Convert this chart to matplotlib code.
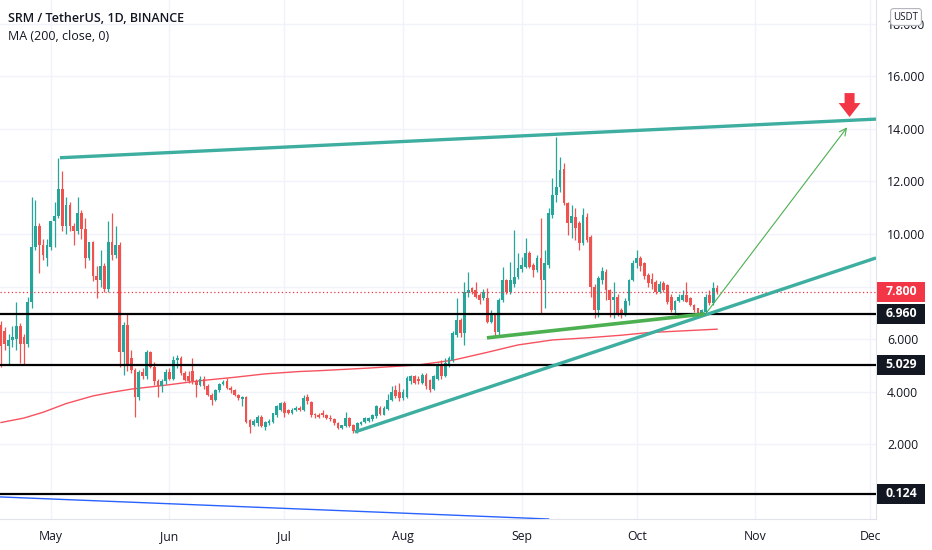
import pandas as pd
import matplotlib
matplotlib.use("Agg")
import matplotlib.pyplot as plt
from matplotlib.patches import Rectangle, FancyArrow

START_DATE = "2021-04-18"

# daily OHLC, SRM/USDT
opens = [6.55, 6.3, 5.75, 5.95, 6.0, 6.5, 6.1, 5.8, 7.4, 9.5,
         10.3, 9.6, 9.1, 9.5, 10.5, 10.7, 11.7, 10.3, 11.1, 10.3,
         10.1, 10.8, 10.2, 9.1, 9.7, 8.4, 8.25, 8.8, 7.9, 9.7,
         9.2, 9.6, 5.5, 6.54, 5.27, 4.83, 3.81, 4.77, 4.6, 5.5,
         4.95, 4.39, 4.2, 4.39, 4.77, 4.5, 5.2, 5.3, 4.7, 4.6,
         4.8, 4.4, 4.26, 4.5, 4.2, 3.88, 3.69, 4.05, 4.3, 4.39,
         4.15, 4.05, 3.88, 3.72, 3.8, 2.93, 2.74, 2.8, 3.05, 2.65,
         2.8, 2.85, 3.1, 3.3, 3.56, 3.3, 3.2, 3.3, 3.4, 3.3,
         3.8, 3.6, 3.15, 3.12, 3.2, 3.1, 3.0, 2.97, 2.8, 2.62,
         2.7, 3.0, 2.72, 2.5, 2.78, 2.86, 2.9, 2.95, 3.06, 3.4,
         3.12, 3.35, 3.7, 4.07, 4.0, 3.78, 3.8, 4.4, 4.58, 4.5,
         4.35, 4.64, 4.45, 4.1, 4.5, 5.0, 4.6, 5.05, 5.21, 6.16,
         6.73, 6.22, 7.74, 7.93, 7.87, 7.68, 7.55, 7.55, 6.67, 6.92,
         6.29, 7.49, 8.25, 7.81, 8.1, 8.38, 8.65, 8.76, 9.27, 8.82,
         8.63, 9.08, 8.25, 8.82, 10.72, 11.48, 11.8, 12.46, 11.17, 10.41,
         10.66, 10.41, 9.65, 10.66, 9.9, 8.0, 7.11, 8.25, 8.57, 7.87,
         7.49, 7.62, 7.1, 6.98, 7.45, 8.25, 8.88, 9.07, 8.9, 8.45,
         8.3, 8.19, 7.81, 8.12, 8.06, 7.6, 7.1, 7.45, 7.5, 7.68,
         7.55, 7.3, 7.17, 6.98, 7.05, 7.68, 7.36, 7.93]
highs = [6.7, 6.45, 6.2, 6.5, 7.4, 6.6, 6.2, 7.6, 11.4, 11.3,
         10.4, 9.8, 9.8, 10.5, 11.2, 12.9, 12.4, 11.4, 11.2, 10.4,
         11.4, 10.9, 10.6, 9.7, 9.75, 8.8, 9.4, 8.9, 10.5, 10.8,
         10.3, 9.7, 6.67, 6.98, 5.59, 4.9, 4.83, 4.9, 5.6, 5.55,
         5.14, 4.5, 4.5, 4.85, 4.9, 5.36, 5.4, 5.35, 4.8, 4.8,
         5.27, 4.5, 4.6, 4.6, 4.3, 3.95, 4.1, 4.35, 4.45, 4.51,
         4.2, 4.1, 3.9, 3.85, 3.82, 2.95, 2.95, 3.1, 3.1, 2.9,
         2.95, 3.2, 3.5, 3.6, 3.65, 3.35, 3.4, 3.45, 3.45, 3.88,
         3.9, 3.65, 3.2, 3.2, 3.3, 3.15, 3.1, 3.0, 2.85, 2.75,
         3.24, 3.05, 2.78, 2.85, 2.9, 3.05, 3.05, 3.15, 3.5, 3.45,
         3.45, 3.9, 4.2, 4.26, 4.32, 4.1, 4.6, 4.65, 4.64, 4.6,
         4.7, 4.7, 4.5, 4.65, 5.1, 5.2, 5.3, 5.35, 6.3, 7.55,
         6.8, 8.19, 8.57, 8.0, 8.19, 7.75, 7.9, 7.93, 7.1, 6.98,
         7.55, 8.76, 8.3, 8.95, 10.15, 9.27, 9.14, 9.84, 9.35, 8.9,
         9.2, 10.6, 9.4, 11.0, 12.12, 13.7, 12.94, 12.69, 11.2, 11.1,
         10.98, 10.5, 10.98, 10.8, 9.95, 8.1, 8.4, 8.76, 8.65, 7.9,
         8.19, 7.7, 7.2, 7.55, 8.3, 9.0, 9.39, 9.15, 8.95, 8.5,
         8.5, 8.25, 8.2, 8.2, 8.1, 7.7, 7.5, 7.7, 7.87, 8.19,
         7.6, 7.35, 7.2, 7.15, 7.7, 7.87, 8.19, 8.06]
lows = [4.95, 5.6, 5.05, 5.7, 5.6, 5.1, 5.05, 5.7, 7.2, 9.4,
        8.5, 9.0, 8.8, 9.4, 9.5, 10.6, 10.1, 10.0, 10.1, 9.6,
        10.0, 9.8, 8.7, 9.0, 8.2, 7.55, 8.0, 7.8, 7.8, 9.0,
        9.1, 4.95, 4.64, 4.8, 4.7, 3.05, 3.7, 4.5, 4.5, 4.9,
        4.26, 3.81, 4.0, 4.3, 4.45, 4.45, 4.9, 4.65, 4.4, 4.35,
        4.3, 3.81, 4.2, 4.1, 3.85, 3.5, 3.65, 4.0, 4.25, 4.1,
        3.95, 3.85, 3.7, 3.45, 2.8, 2.42, 2.7, 2.7, 2.65, 2.55,
        2.75, 2.8, 3.05, 3.25, 3.05, 3.15, 3.15, 3.25, 3.25, 3.25,
        3.55, 3.05, 3.0, 3.0, 3.05, 2.95, 2.9, 2.75, 2.58, 2.58,
        2.65, 2.65, 2.42, 2.45, 2.72, 2.8, 2.85, 2.9, 3.0, 3.1,
        3.1, 3.3, 3.65, 3.78, 3.63, 3.7, 3.75, 4.3, 4.3, 4.3,
        4.3, 4.1, 4.0, 4.05, 4.45, 4.5, 4.55, 4.95, 5.15, 6.1,
        6.1, 5.78, 7.6, 7.7, 7.55, 7.35, 7.5, 6.6, 6.6, 6.1,
        6.15, 7.4, 7.7, 7.7, 8.0, 8.3, 8.55, 8.7, 8.7, 8.38,
        8.55, 6.98, 7.17, 8.7, 10.6, 11.2, 11.6, 11.1, 9.96, 9.84,
        9.77, 9.39, 9.6, 9.7, 7.6, 6.79, 6.85, 8.1, 7.49, 6.85,
        6.79, 6.9, 6.8, 6.9, 7.3, 8.2, 8.7, 8.6, 8.3, 8.0,
        7.9, 7.7, 7.75, 7.8, 7.35, 7.05, 6.98, 7.4, 7.45, 7.4,
        7.25, 7.05, 6.92, 6.92, 7.0, 7.3, 7.3, 7.7]
closes = [5.75, 5.8, 5.95, 6.1, 6.5, 5.8, 5.8, 7.4, 9.5, 10.3,
          9.6, 9.2, 9.6, 10.5, 10.7, 11.7, 10.3, 11.1, 10.3, 10.1,
          10.8, 10.2, 9.1, 9.7, 8.4, 8.25, 8.8, 7.9, 9.7, 9.2,
          9.6, 5.5, 6.54, 5.0, 4.83, 3.81, 4.77, 4.6, 5.53, 4.95,
          4.39, 4.2, 4.39, 4.77, 4.5, 5.2, 5.3, 4.7, 4.45, 4.4,
          4.39, 4.26, 4.5, 4.2, 3.88, 3.69, 4.07, 4.3, 4.37, 4.13,
          4.05, 3.88, 3.75, 3.8, 2.86, 2.67, 2.88, 3.05, 2.7, 2.85,
          2.9, 3.18, 3.44, 3.56, 3.2, 3.2, 3.3, 3.4, 3.3, 3.75,
          3.65, 3.12, 3.1, 3.05, 3.1, 3.0, 2.97, 2.8, 2.62, 2.72,
          3.0, 2.7, 2.5, 2.8, 2.86, 2.99, 3.0, 3.12, 3.44, 3.15,
          3.37, 3.7, 3.98, 3.82, 3.75, 4.0, 4.51, 4.58, 4.35, 4.4,
          4.62, 4.2, 4.07, 4.6, 5.0, 4.6, 5.1, 5.27, 6.22, 6.73,
          6.22, 7.81, 7.87, 7.81, 7.62, 7.49, 7.81, 6.67, 6.98, 6.29,
          7.49, 8.25, 7.81, 8.25, 8.38, 8.7, 8.82, 9.27, 8.76, 8.63,
          9.08, 8.25, 8.89, 10.79, 11.48, 11.8, 12.43, 11.17, 10.41, 10.7,
          10.22, 9.65, 10.72, 9.77, 8.0, 7.11, 8.31, 8.6, 7.87, 7.5,
          7.62, 7.0, 6.95, 7.45, 8.25, 8.88, 9.07, 8.8, 8.4, 8.12,
          8.1, 7.81, 8.1, 7.87, 7.43, 7.1, 7.45, 7.62, 7.68, 7.43,
          7.3, 7.11, 6.98, 7.11, 7.62, 7.36, 7.93, 7.8]

# MA(200, close): day index -> value
ma_days = [0, 6, 11, 17, 24, 29, 34, 43, 52, 61, 69, 78, 83, 96, 109,
           118, 127, 135, 144, 153, 162, 169, 187]
ma_values = [2.83, 3.0, 3.22, 3.55, 3.84, 3.98, 4.1, 4.25, 4.42, 4.55,
             4.68, 4.77, 4.80, 4.9, 5.02, 5.2, 5.5, 5.78, 5.97, 6.05,
             6.15, 6.25, 6.38]

level_prices = [6.960, 5.029, 0.124]
last_price = 7.800
price_ticks = [2, 4, 6, 8, 10, 12, 14, 16, 18]
month_starts = pd.date_range("2021-05-01", "2021-12-01", freq="MS")
month_labels = ["May", "Jun", "Jul", "Aug", "Sep", "Oct", "Nov", "Dec"]

# drawings (day index, price)
upper_channel = [(15.4, 12.9), (228.5, 14.37)]
lower_channel = [(92.4, 2.47), (228.5, 9.09)]
support_line = [(126.9, 6.05), (183.8, 6.96)]
target_arrow = [(184.0, 6.96), (221.4, 14.14)]
old_trend = [(-0.3, 0.0), (143.0, -0.84)]
red_marker = (221.6, 15.36, 14.45)

UP = "#26A69A"
DOWN = "#EF5350"
TEXT = "#131722"
TEAL = "#3DAE9F"
GREEN = "#4CAF50"
RED = "#F23645"

plt.rcParams["font.family"] = ["Open Sans", "DejaVu Sans"]

fig = plt.figure(figsize=(9.32, 5.5), dpi=100)
ax = fig.add_axes([0, 1 - 519 / 550, 876 / 932, 519 / 550])

start = pd.Timestamp(START_DATE)
days = list(range(len(closes)))

ax.set_xlim(-0.26, 228.5)
ax.set_ylim(-0.84, 18.9)

# grid
tick_pos = [(m - start).days for m in month_starts]
ax.set_xticks(tick_pos)
ax.set_xticklabels(month_labels)
ax.set_yticks(price_ticks)
ax.set_yticklabels([f"{v:.3f}" for v in price_ticks])
ax.yaxis.tick_right()
ax.grid(True, color="#F0F3FA", lw=1.0, zorder=0)
ax.set_axisbelow(True)
ax.tick_params(axis="both", length=0, labelsize=8.8, colors=TEXT)
ax.tick_params(axis="x", pad=8)
ax.tick_params(axis="y", pad=8)
for side in ["top", "left"]:
    ax.spines[side].set_visible(False)
for side in ["right", "bottom"]:
    ax.spines[side].set_color("#E0E3EB")
    ax.spines[side].set_linewidth(0.8)

# moving average
ax.plot(ma_days, ma_values, color="#F7525F", lw=1.0, zorder=2)

# candles
colors = [UP if c >= o else DOWN for o, c in zip(opens, closes)]
ax.vlines(days, lows, highs, colors=colors, lw=0.9, zorder=3)
bottoms = [min(o, c) for o, c in zip(opens, closes)]
heights = [max(abs(c - o), 0.04) for o, c in zip(opens, closes)]
ax.bar(days, heights, bottom=bottoms, width=0.72, color=colors, lw=0, zorder=4)

# horizontal levels
for p in level_prices:
    ax.axhline(p, color="black", lw=1.6, zorder=5)
ax.axhline(last_price, color=RED, lw=0.9, ls=(0, (1, 2)), zorder=5)

# trend lines
ax.plot(*zip(*old_trend), color="#2962FF", lw=1.0, zorder=5)
ax.plot(*zip(*upper_channel), color=TEAL, lw=2.4, zorder=6, solid_capstyle="butt")
ax.plot(*zip(*lower_channel), color=TEAL, lw=2.4, zorder=6, solid_capstyle="butt")
ax.plot(*zip(*support_line), color=GREEN, lw=2.6, zorder=6, solid_capstyle="butt")
ax.annotate("", xy=target_arrow[1], xytext=target_arrow[0],
            arrowprops=dict(arrowstyle="->,head_width=0.25,head_length=0.5",
                            color=GREEN, lw=0.8), zorder=7)
mx, mtop, mtip = red_marker
ax.add_patch(FancyArrow(mx, mtop, 0, mtip - mtop, width=2.6, head_width=5.7,
                        head_length=0.53, length_includes_head=True,
                        color=RED, lw=0, zorder=8))

# price scale labels
yt = ax.get_yaxis_transform()
def price_box(p, face):
    ax.add_patch(Rectangle((1.0015, p - 0.38), 0.0545, 0.76, transform=yt,
                           facecolor=face, edgecolor="none", clip_on=False,
                           zorder=10))
    ax.text(1.0288, p, f"{p:.3f}", transform=yt, ha="center", va="center",
            fontsize=8.8, color="white", weight="bold", zorder=11,
            clip_on=False)

price_box(last_price, RED)
for p in level_prices:
    price_box(p, TEXT)

fig.text(906 / 932, 1 - 17 / 550, "USDT", ha="center", va="center",
         fontsize=7, color=TEXT, zorder=12,
         bbox=dict(boxstyle="round,pad=0.3,rounding_size=0.3", fc="white",
                   ec="#B2B5BE", lw=0.8))

fig.text(8 / 932, 1 - 18 / 550, "SRM / TetherUS, 1D, BINANCE", ha="left",
         va="center", fontsize=9.0, weight="semibold", color=TEXT)
fig.text(8 / 932, 1 - 36 / 550, "MA (200, close, 0)", ha="left",
         va="center", fontsize=9.0, color=TEXT)

fig.savefig("out.png", dpi=100)
